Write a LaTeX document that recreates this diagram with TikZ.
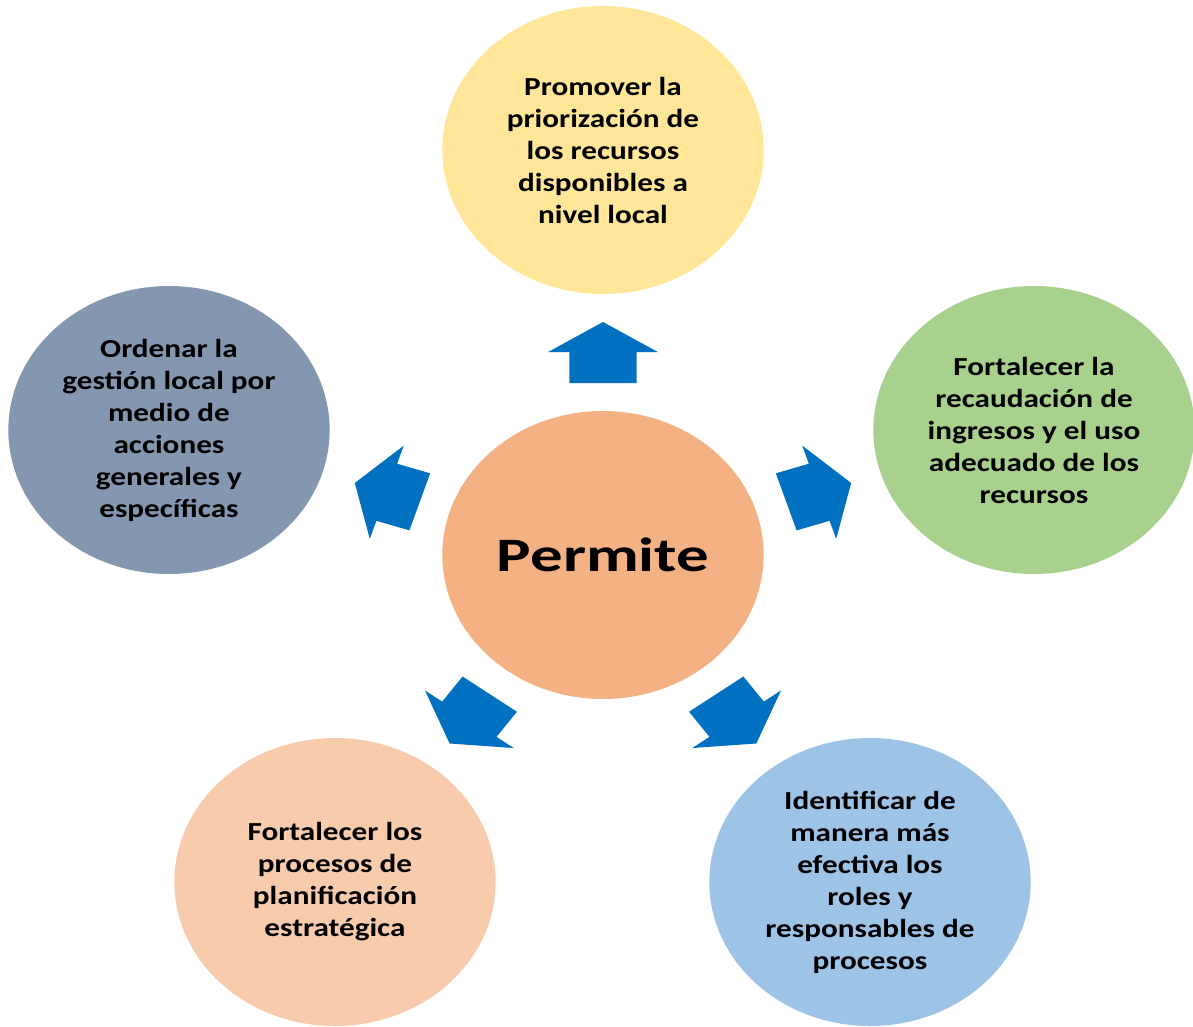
\documentclass[tikz,border=0pt]{standalone}
\usepackage{fontspec}
\setmainfont{Carlito}[FakeStretch=1.2]
\usetikzlibrary{shapes.geometric}

\definecolor{cYellow}{HTML}{FFE699}
\definecolor{cSlate}{HTML}{8497B0}
\definecolor{cGreen}{HTML}{A9D18E}
\definecolor{cOrange}{HTML}{F4B183}
\definecolor{cPeach}{HTML}{F8CBAD}
\definecolor{cSky}{HTML}{9DC3E6}
\definecolor{cArrow}{HTML}{0070C0}

\tikzstyle{bubble} = [ellipse,minimum width=241pt,minimum height=216pt,inner sep=0pt,
  align=center,font=\fontsize{19.5}{24}\selectfont\bfseries]
\tikzstyle{blockarrow} = [fill=cArrow,xscale=1.12]

\begin{document}
\begin{tikzpicture}[x=0.75pt,y=0.75pt]
	\useasboundingbox (-603,-471) rectangle (590,555);
	\node[bubble,fill=cOrange,font=\fontsize{36}{40}\selectfont\bfseries\addfontfeature{FakeStretch=1.35}] (c) at (0,0) {Permite};
	\node[bubble,fill=cYellow] (n1) at (0,405) {Promover la\\priorización de\\los recursos\\disponibles a\\nivel local};
	\node[bubble,fill=cGreen] (n2) at (431,125) {Fortalecer la\\recaudación de\\ingresos y el uso\\adecuado de los\\recursos};
	\node[bubble,fill=cSky] (n3) at (267,-327) {Identificar de\\manera más\\efectiva los\\roles y\\responsables de\\procesos};
	\node[bubble,fill=cPeach] (n4) at (-268,-327) {Fortalecer los\\procesos de\\planificación\\estratégica};
	\node[bubble,fill=cSlate] (n5) at (-434,125) {Ordenar la\\gestión local por\\medio de\\acciones\\generales y\\específicas};
	% block arrows from the centre outwards
	\foreach \a in {90,18,-54,-126,162}
		\fill[blockarrow,rotate=\a] (172,-30) -- (203,-30) -- (203,-49) -- (233,0)
			-- (203,49) -- (203,30) -- (172,30) -- cycle;
\end{tikzpicture}
\end{document}
